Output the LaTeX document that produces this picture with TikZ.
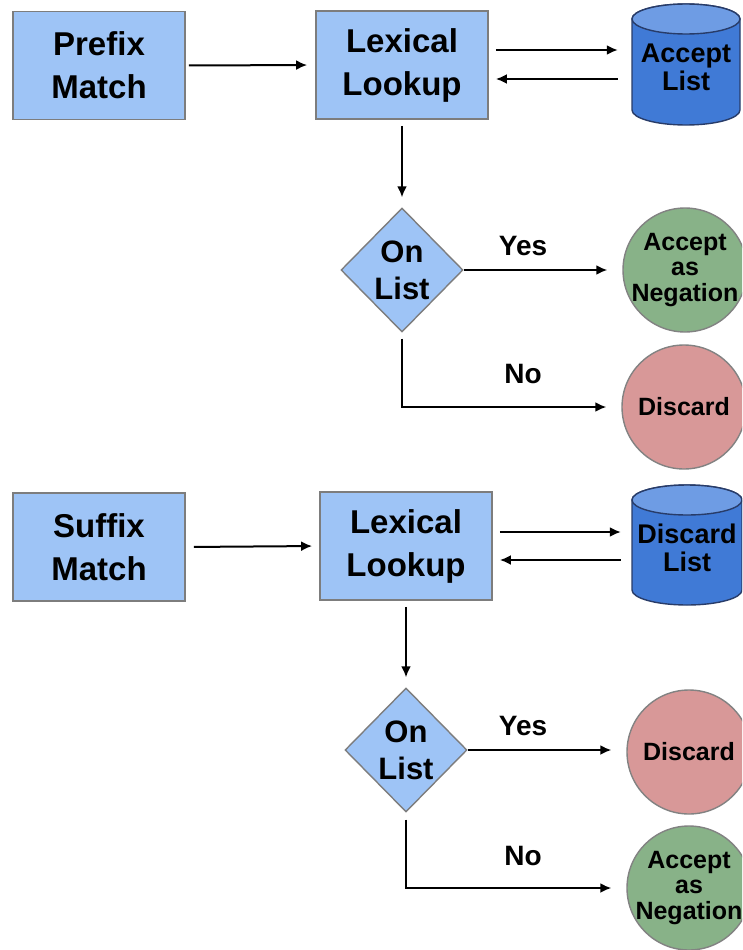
\documentclass[tikz,border=0pt]{standalone}
\usepackage{fontspec}
\setmainfont{Liberation Sans}
\usetikzlibrary{shapes.geometric,arrows.meta,calc}
\definecolor{boxblue}{RGB}{158,196,246}
\definecolor{boxedge}{RGB}{125,125,125}
\definecolor{cylbody}{RGB}{64,122,214}
\definecolor{cyltop}{RGB}{110,156,228}
\definecolor{cyledge}{RGB}{40,60,105}
\definecolor{greenc}{RGB}{136,178,136}
\definecolor{redc}{RGB}{216,152,152}
\definecolor{circedge}{RGB}{130,130,130}
\begin{document}
\begin{tikzpicture}[x=1pt,y=-1pt,
  procbox/.style={rectangle,draw=boxedge,line width=1.8pt,fill=boxblue,minimum width=172pt,minimum height=108pt,inner sep=0pt,align=center,font=\bfseries\fontsize{33}{43}\selectfont},
  dia/.style={diamond,draw=boxedge,line width=1.4pt,fill=boxblue,minimum width=122pt,minimum height=124pt,inner sep=0pt},
  diatext/.style={align=center,inner sep=0pt,font=\bfseries\fontsize{31}{37}\selectfont},
  cyltext/.style={align=center,inner sep=0pt,minimum width=108pt,font=\bfseries\fontsize{27}{28}\selectfont},
  circ/.style={circle,draw=circedge,line width=1.4pt,minimum size=124pt,inner sep=0pt},
  circtext/.style={align=center,inner sep=0pt,font=\bfseries\fontsize{25}{25.5}\selectfont},
  lbl/.style={anchor=base,inner sep=0pt,font=\bfseries\fontsize{28}{30}\selectfont},
  arr/.style={line width=2pt,-{Latex[length=11pt,width=10pt]}},
  cylpath/.style={fill=cylbody,draw=cyledge,line width=1.4pt},
  cyltoppath/.style={fill=cyltop,draw=cyledge,line width=1.4pt}
]
\clip (0,0) rectangle (742,950);
\fill[white] (0,0) rectangle (742,950);

% ---------- top section ----------
\node[procbox] (pm) at (99,65.5) {Prefix\\Match};
\node[procbox] (lex1) at (402,65) {Lexical\\Lookup};

% cylinder Accept List
\path[cylpath] (632,19) -- (632,110) arc[start angle=180,end angle=360,x radius=54pt,y radius=15pt] -- (740,19) arc[start angle=0,end angle=180,x radius=54pt,y radius=15pt] -- cycle;
\path[cyltoppath] (686,19) ellipse[x radius=54pt,y radius=15pt];
\node[cyltext] (accl) at (686,67) {Accept\\List};

\node[dia] (d1) at (402,270) {};
\node[diatext] (d1t) at (d1) {On\\List};

\node[circ,fill=greenc] (ac1) at (685,270) {};
\node[circtext] (ac1t) at (ac1) {Accept\\as\\Negation};
\node[circ,fill=redc] (dc1) at (684,407) {};
\node[circtext] (dc1t) at (dc1) {Discard};

\node[lbl] (yes1) at (523,255) {Yes};
\node[lbl] (no1) at (523,383) {No};

\draw[arr,shorten <=3pt,shorten >=8pt] (pm.east) -- (lex1.west);
\draw[arr,shorten <=7pt,shorten >=14pt] ([yshift=15pt]lex1.east) -- ([yshift=15pt]lex1.east -| accl.west);
\draw[arr,shorten <=14pt,shorten >=7pt] ([yshift=-14pt]lex1.east -| accl.west) -- ([yshift=-14pt]lex1.east);
\draw[arr,shorten <=6pt,shorten >=10pt] (lex1.south) -- (d1.north);
\draw[arr,shorten >=15pt] (d1.east) -- (ac1.west);
\draw[arr,shorten <=6pt,shorten >=15pt] (d1.south) |- (dc1.west);

% ---------- bottom section ----------
\node[procbox] (sm) at (99,547) {Suffix\\Match};
\node[procbox] (lex2) at (406,546) {Lexical\\Lookup};

% cylinder Discard List
\path[cylpath] (632,500) -- (632,590) arc[start angle=180,end angle=360,x radius=55pt,y radius=15pt] -- (742,500) arc[start angle=0,end angle=180,x radius=55pt,y radius=15pt] -- cycle;
\path[cyltoppath] (687,500) ellipse[x radius=55pt,y radius=15pt];
\node[cyltext] (dcl) at (687,548) {Discard\\List};

\node[dia] (d2) at (406,750) {};
\node[diatext] (d2t) at (d2) {On\\List};

\node[circ,fill=redc] (dc2) at (689,752) {};
\node[circtext] (dc2t) at (dc2) {Discard};
\node[circ,fill=greenc] (ac2) at (689,888) {};
\node[circtext] (ac2t) at (ac2) {Accept\\as\\Negation};

\node[lbl] (yes2) at (523,735) {Yes};
\node[lbl] (no2) at (523,865) {No};

\draw[arr,shorten <=8pt,shorten >=7pt] (sm.east) -- (lex2.west);
\draw[arr,shorten <=7pt,shorten >=12pt] ([yshift=14pt]lex2.east) -- ([yshift=14pt]lex2.east -| dcl.west);
\draw[arr,shorten <=12pt,shorten >=7pt] ([yshift=-14pt]lex2.east -| dcl.west) -- ([yshift=-14pt]lex2.east);
\draw[arr,shorten <=6pt,shorten >=10pt] (lex2.south) -- (d2.north);
\draw[arr,shorten >=15pt] (d2.east) -- (d2.east -| dc2.west);
\draw[arr,shorten <=7pt,shorten >=15pt] (d2.south) |- (ac2.west);
\end{tikzpicture}
\end{document}
